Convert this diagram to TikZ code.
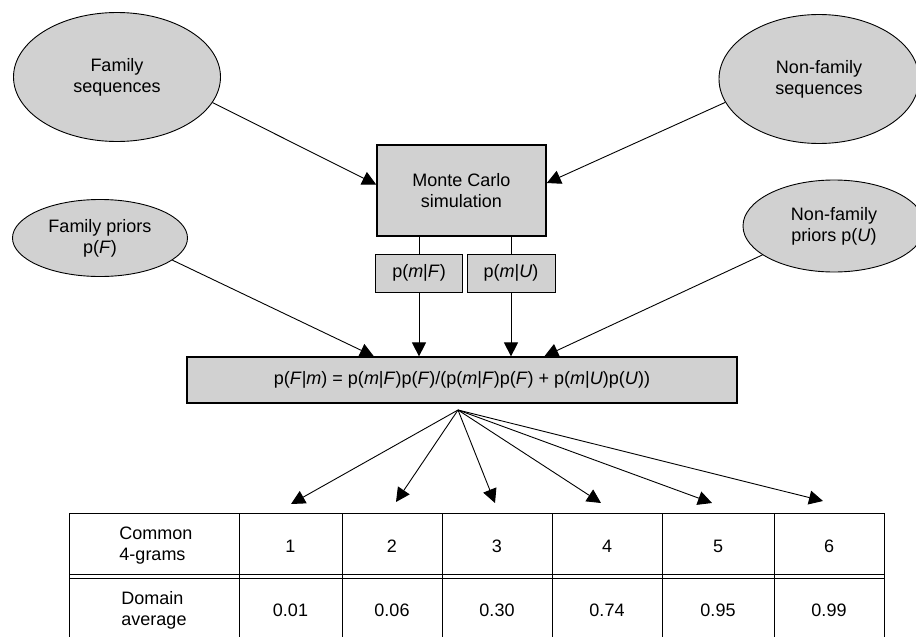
\documentclass[tikz,border=0pt]{standalone}
\usepackage{fontspec}
\setmainfont{Liberation Sans}
\usetikzlibrary{arrows.meta,shapes.geometric,calc}
\begin{document}
\begin{tikzpicture}[x=1pt,y=-1pt,
  font=\fontsize{18}{21}\selectfont,
  ell/.style={ellipse, draw, fill=black!18, line width=0.9pt, inner sep=0pt, align=center},
  box/.style={rectangle, draw, fill=black!18, line width=1pt, inner sep=0pt, align=center},
  arr/.style={-{Triangle[length=14pt,width=14pt]}, line width=0.9pt},
  ln/.style={line width=0.9pt},
  cell/.style={inner sep=0pt, align=center},
  lcell/.style={inner sep=0pt, align=left}]
\useasboundingbox (0,0) rectangle (916,637);

% ellipses
\node[ell, minimum width=207pt, minimum height=129pt] (fs) at (117,77) {Family\\sequences};
\node[ell, minimum width=200pt, minimum height=129pt] (nfs) at (819,79) {Non-family\\sequences};
\node[ell, minimum width=175pt, minimum height=77pt] (fp) at (100,238) {Family priors\\p(\textit{F})};
\node[ell, minimum width=182pt, minimum height=92pt] (nfp) at (834,226) {Non-family\\priors p(\textit{U})};

% boxes
\node[box, line width=1.6pt, minimum width=169pt, minimum height=91pt] (mc) at (461.5,190.5) {Monte Carlo\\simulation};
\node[box, minimum width=87pt, minimum height=38pt] (pmF) at (419,273) {p(\textit{m}|\textit{F})};
\node[box, minimum width=88pt, minimum height=38pt] (pmU) at (511,273) {p(\textit{m}|\textit{U})};
\node[box, line width=1.2pt, minimum width=550pt, minimum height=46pt] (fm) at (462,380)
  {p(\textit{F}|\textit{m}) = p(\textit{m}|\textit{F})p(\textit{F})/(p(\textit{m}|\textit{F})p(\textit{F}) + p(\textit{m}|\textit{U})p(\textit{U}))};

% connectors to Monte Carlo
\draw[arr] (fs.-15) -- (mc.176);
\draw[arr] (nfs.194) -- (mc.5);

% Monte Carlo to likelihood boxes
\draw[ln] (mc.south -| pmF.north) -- (pmF.north);
\draw[ln] (mc.south -| pmU.north) -- (pmU.north);

% into formula
\draw[arr] (fp.-17) -- (fm.165.5);
\draw[arr] (pmF.south) -- (pmF.south |- fm.north);
\draw[arr] (pmU.south) -- (pmU.south |- fm.north);
\draw[arr] (nfp.202) -- (fm.16.6);

% fan-out
\coordinate (o) at (458,410);
\coordinate (t1) at (291,504);
\coordinate (t2) at (396,502);
\coordinate (t3) at (495,503);
\coordinate (t4) at (601,503);
\coordinate (t5) at (712,503);
\coordinate (t6) at (823,501);
\foreach \i in {1,...,6} \draw[arr] (o) -- (t\i);

% table
\draw[ln] (69,513) -- (884,513);
\draw[ln] (69,574.5) -- (884,574.5);
\draw[ln] (69,578) -- (884,578);
\foreach \x in {69,239,342,442,552,662,774,884} \draw[ln] (\x,513) -- (\x,645);

\node[lcell] (h0) at (156,546) {Common\\4-grams};
\node[lcell] (d0) at (154,610) {Domain\\average};
\node[cell] (h1) at (290.5,546) {1};
\node[cell] (h2) at (392,546) {2};
\node[cell] (h3) at (497,546) {3};
\node[cell] (h4) at (607,546) {4};
\node[cell] (h5) at (718,546) {5};
\node[cell] (h6) at (829,546) {6};
\node[cell] (d1) at (290.5,610) {0.01};
\node[cell] (d2) at (392,610) {0.06};
\node[cell] (d3) at (497,610) {0.30};
\node[cell] (d4) at (607,610) {0.74};
\node[cell] (d5) at (718,610) {0.95};
\node[cell] (d6) at (829,610) {0.99};
\end{tikzpicture}
\end{document}
